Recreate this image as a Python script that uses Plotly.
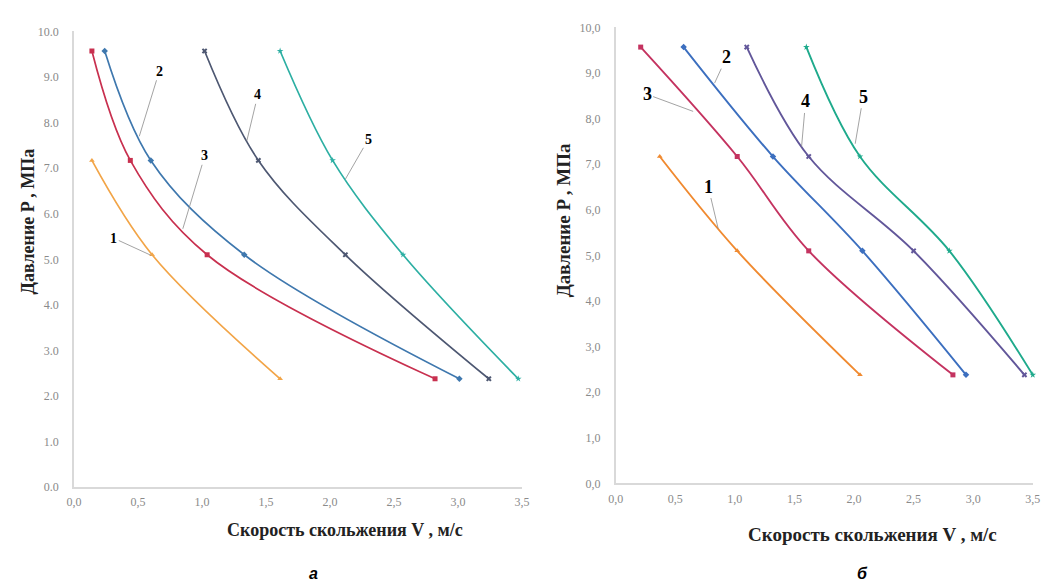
import plotly.graph_objects as go

W, H = 1058, 587

# ---------------- data ----------------
P_levels = [9.57, 7.17, 5.10, 2.38]
P_short = [7.17, 5.10, 2.38]

# panel "а"
V1a = [0.14, 0.61, 1.61]
V2a = [0.24, 0.60, 1.33, 3.01]
V3a = [0.14, 0.44, 1.04, 2.82]
V4a = [1.02, 1.44, 2.12, 3.24]
V5a = [1.61, 2.02, 2.57, 3.47]

# panel "б"
V1b = [0.37, 1.02, 2.05]
V2b = [0.57, 1.32, 2.07, 2.94]
V3b = [0.21, 1.02, 1.62, 2.83]
V4b = [1.10, 1.62, 2.50, 3.43]
V5b = [1.60, 2.05, 2.80, 3.50]

x_ticks = [0, 0.5, 1.0, 1.5, 2.0, 2.5, 3.0, 3.5]
y_ticks = list(range(0, 11))
x_text_a = ["0,0", "0,5", "1,0", "1,5", "2,0", "2,5", "3,0", "3,5"]
y_text_a = ["%d.0" % v for v in y_ticks]
x_text_b = ["0,0", "0,5", "1,0", "1,5", "2,0", "2,5", "3,0", "3,5"]
y_text_b = ["%d,0" % v for v in y_ticks]

curve_labels = ["1", "2", "3", "4", "5"]
x_title = "Скорость скольжения V , м/с"
y_title = "Давление P , МПа"
panel_names = ["а", "б"]

colors_a = ["#F2A548", "#3F78AE", "#C8304F", "#4E5872", "#2DAFA3"]
colors_b = ["#F08A30", "#3C6FBF", "#C43360", "#62579A", "#1FAA8C"]
symbols = ["triangle-up", "diamond", "square", "x", "star"]

def px_x(p):
    return p / W

def px_y(p):
    return 1 - p / H

fig = go.Figure()

series_a = [(V1a, P_short), (V2a, P_levels), (V3a, P_levels), (V4a, P_levels), (V5a, P_levels)]
series_b = [(V1b, P_short), (V2b, P_levels), (V3b, P_levels), (V4b, P_levels), (V5b, P_levels)]

for i, (vx, py) in enumerate(series_a):
    fig.add_trace(go.Scatter(x=vx, y=py, mode="lines+markers", xaxis="x", yaxis="y",
                             line=dict(color=colors_a[i], width=1.7, shape="spline"),
                             marker=dict(symbol=symbols[i], size=5, color=colors_a[i]),
                             cliponaxis=False, showlegend=False))
for i, (vx, py) in enumerate(series_b):
    fig.add_trace(go.Scatter(x=vx, y=py, mode="lines+markers", xaxis="x2", yaxis="y2",
                             line=dict(color=colors_b[i], width=1.9, shape="spline"),
                             marker=dict(symbol=symbols[i], size=5, color=colors_b[i]),
                             cliponaxis=False, showlegend=False))

axis_common = dict(showgrid=False, zeroline=False, showline=True, linecolor="#d9d9d9",
                   linewidth=1.5, ticks="", tickfont=dict(family="Liberation Serif", size=12, color="#8a8a8a"))

fig.update_layout(
    width=W, height=H,
    margin=dict(l=0, r=0, t=0, b=0),
    paper_bgcolor="white", plot_bgcolor="white",
    xaxis=dict(domain=[px_x(67), px_x(522)], range=[0, 3.5], tickvals=x_ticks, ticktext=x_text_a,
               anchor="y", ticklabelstandoff=3, **axis_common),
    yaxis=dict(domain=[px_y(492), px_y(25)], range=[0, 10], tickvals=y_ticks, ticktext=y_text_a,
               anchor="x", ticklabelstandoff=11, **axis_common),
    xaxis2=dict(domain=[px_x(617), px_x(1040.5)], range=[0, 3.5], tickvals=x_ticks, ticktext=x_text_b,
                anchor="y2", ticklabelstandoff=3, **axis_common),
    yaxis2=dict(domain=[px_y(488), px_y(21)], range=[0, 10], tickvals=y_ticks, ticktext=y_text_b,
                anchor="x2", ticklabelstandoff=11, **axis_common),
)

# leader-line labels (target point in data coords, label offset in px)
lead_a = [(0.60, 5.09, -37, -17), (0.51, 7.70, 20, -65), (0.85, 5.67, 22, -73),
          (1.35, 7.60, 11, -46), (2.12, 6.76, 23, -40)]
lead_b = [(0.86, 5.59, -10, -42), (0.83, 8.78, 12, -26), (0.65, 8.16, -46, -17),
          (1.56, 7.39, 4, -45), (2.01, 7.45, 8, -47)]

for lab, (x, y, ax, ay) in zip(curve_labels, lead_a):
    fig.add_annotation(x=x, y=y, xref="x", yref="y", ax=ax, ay=ay, text="<b>%s</b>" % lab,
                       showarrow=True, arrowhead=0, arrowwidth=0.8, arrowcolor="#8c8c8c",
                       font=dict(family="Liberation Serif", size=14, color="black"))
for lab, (x, y, ax, ay) in zip(curve_labels, lead_b):
    fig.add_annotation(x=x, y=y, xref="x2", yref="y2", ax=ax, ay=ay, text="<b>%s</b>" % lab,
                       showarrow=True, arrowhead=0, arrowwidth=0.8, arrowcolor="#8c8c8c",
                       font=dict(family="Liberation Serif", size=18, color="black"))

def paper_text(px, py, text, size, angle=0):
    fig.add_annotation(x=px_x(px), y=px_y(py), xref="paper", yref="paper", showarrow=False,
                       xanchor="center", yanchor="middle", textangle=angle, text=text,
                       font=dict(family="Liberation Serif", size=size, color="#222222"))

paper_text(342, 536, "<b>%s</b>" % x_title, 18)
paper_text(878, 540, "<b>%s</b>" % x_title, 19)
paper_text(20, 220, "<b>%s</b>" % y_title, 18, -90)
paper_text(564, 218, "<b>%s</b>" % y_title, 19, -90)

sub_font = dict(family="Liberation Sans", size=16, color="black")
for name, px in zip(panel_names, [310, 868]):
    fig.add_annotation(x=px_x(px), y=px_y(580), xanchor="center", yanchor="middle", xref="paper",
                       yref="paper", showarrow=False, text="<b><i>%s</i></b>" % name, font=sub_font)

fig.write_html("out.html")
